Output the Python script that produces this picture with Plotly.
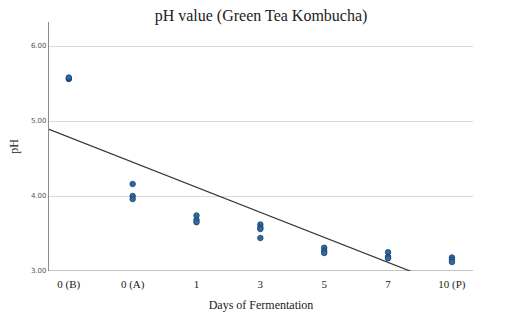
import numpy as np
import plotly.graph_objects as go

categories = ["0 (B)", "0 (A)", "1", "3", "5", "7", "10 (P)"]
ph_values = [
    [5.56, 5.57, 5.58],
    [4.16, 4.00, 3.96],
    [3.74, 3.68, 3.65],
    [3.62, 3.58, 3.56, 3.44],
    [3.31, 3.27, 3.24],
    [3.25, 3.19, 3.17],
    [3.18, 3.15, 3.12],
]
y_ticks = [3.0, 4.0, 5.0, 6.0]

xs, ys = [], []
for i, vals in enumerate(ph_values):
    for v in vals:
        xs.append(i)
        ys.append(v)

# group means used for linear fit over category index
idx = np.arange(len(categories))
means = np.array([np.mean(v) for v in ph_values])
slope, intercept = np.polyfit(idx, means, 1)

x_range = [-0.31, 6.33]
y_range = [3.0, 6.32]
fit_x = np.array(x_range)
fit_y = intercept + slope * fit_x

fig = go.Figure()
fig.add_trace(go.Scatter(
    x=fit_x, y=fit_y, mode="lines",
    line=dict(color="#333333", width=1.2),
    showlegend=False, hoverinfo="skip", cliponaxis=True,
))
fig.add_trace(go.Scatter(
    x=xs, y=ys, mode="markers",
    marker=dict(size=5.5, color="#2c6aa8", line=dict(color="#1b3f66", width=0.8)),
    showlegend=False,
))

serif = "Liberation Serif, Times New Roman, serif"
fig.update_layout(
    width=529, height=316,
    margin=dict(l=49, r=56, t=22, b=45),
    paper_bgcolor="white", plot_bgcolor="white",
    title=dict(text="pH value (Green Tea Kombucha)", x=(49 + 473) / 2 / 529, xanchor="center",
               y=1 - 15 / 316, yanchor="middle",
               font=dict(family=serif, size=16, color="#222222")),
    xaxis=dict(
        range=x_range, tickmode="array", tickvals=list(idx), ticktext=categories,
        showgrid=False, zeroline=False, showline=False, ticks="",
        ticklabelstandoff=5, automargin=False,
        tickfont=dict(family=serif, size=11, color="#222222"),
        title=dict(text="Days of Fermentation", font=dict(family=serif, size=12, color="#222222"),
                   standoff=10),
    ),
    yaxis=dict(
        range=y_range, tickmode="array", tickvals=y_ticks,
        ticktext=[f"{t:.2f}" for t in y_ticks],
        showgrid=True, gridcolor="#d9d9d9", gridwidth=1.2, automargin=False,
        zeroline=False, showline=True, linecolor="#8c8c8c", linewidth=1.2, ticks="",
        tickfont=dict(family="DejaVu Sans, sans-serif", size=7, color="#555555"),
        title=dict(text="pH", font=dict(family=serif, size=12, color="#222222"), standoff=9),
    ),
)
# x axis baseline at 3.00
fig.add_shape(type="line", xref="paper", yref="y", x0=0, x1=1, y0=3.0, y1=3.0,
              line=dict(color="#8c8c8c", width=1.2), layer="below")

fig.write_html("out.html")
